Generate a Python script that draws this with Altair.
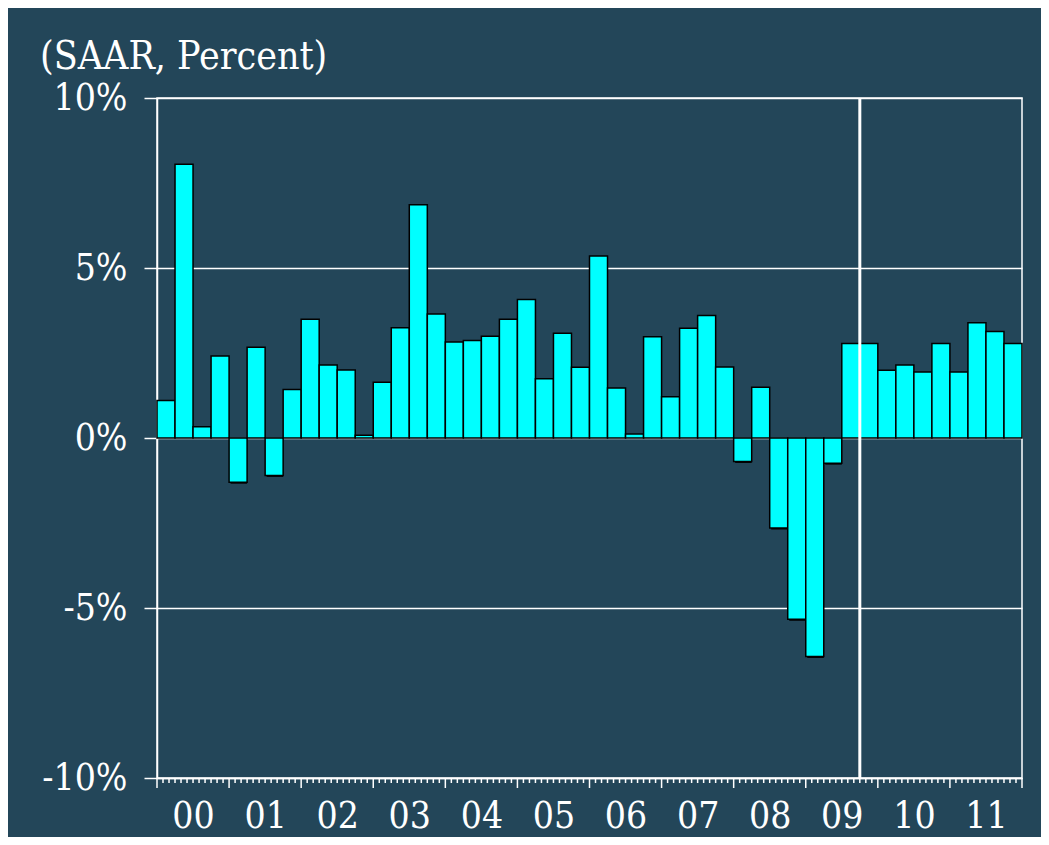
import altair as alt
import pandas as pd

# Quarterly real GDP growth (SAAR, %) 2000Q1 - 2011Q4
quarters = [f"{y}Q{q}" for y in range(2000, 2012) for q in range(1, 5)]
growth = [
    1.1, 8.05, 0.33, 2.41,      # 2000
    -1.3, 2.67, -1.1, 1.43,     # 2001
    3.49, 2.15, 2.0, 0.08,      # 2002
    1.64, 3.24, 6.86, 3.65,     # 2003
    2.82, 2.87, 2.99, 3.49,     # 2004
    4.07, 1.74, 3.08, 2.08,     # 2005
    5.35, 1.47, 0.12, 2.98,     # 2006
    1.21, 3.23, 3.6, 2.09,      # 2007
    -0.69, 1.49, -2.65, -5.33,  # 2008
    -6.43, -0.74, 2.78, 2.78,   # 2009
    1.99, 2.15, 1.94, 2.78,     # 2010
    1.94, 3.39, 3.13, 2.78,     # 2011
]
year_labels = ["00", "01", "02", "03", "04", "05", "06", "07", "08", "09", "10", "11"]
y_ticks = [-10, -5, 0, 5, 10]
forecast_start_quarter = "2009Q4"

BG = "#234659"
FONT = "DejaVu Serif Condensed"

start_month = [3 * i for i in range(len(quarters))]
df = pd.DataFrame({
    "quarter": quarters,
    "growth": growth,
    "start": start_month,
    "end": [m + 3 for m in start_month],
})
fc_df = pd.DataFrame({"month": [start_month[quarters.index(forecast_start_quarter)]]})

n_months = 12 * len(year_labels)
minor_df = pd.DataFrame({"month": [m for m in range(n_months + 1) if m % 12 != 0]})
major_df = pd.DataFrame({"month": [m for m in range(n_months + 1) if m % 12 == 0]})
label_values = [12 * i + 6 for i in range(len(year_labels))]
label_arr = "[" + ",".join(f"'{s}'" for s in year_labels) + "]"

x_scale = alt.Scale(domain=[0, n_months], nice=False, zero=False)
y_scale = alt.Scale(domain=[-10, 10], nice=False)

x_axis = alt.Axis(
    values=label_values,
    title=None,
    grid=False,
    domainColor="white",
    domainWidth=1.5,
    ticks=False,
    labelExpr=f"{label_arr}[floor(datum.value / 12)]",
    labelOverlap=False,
    labelFont=FONT,
    labelFontSize=37,
    labelColor="white",
    labelPadding=49,
    labelBaseline="alphabetic",
)
y_axis = alt.Axis(
    values=y_ticks,
    title=None,
    grid=True,
    gridColor="white",
    gridWidth=1.5,
    domainColor="white",
    domainWidth=1.5,
    tickColor="white",
    tickWidth=1.5,
    tickSize=13,
    labelExpr="datum.value + '%'",
    labelFont=FONT,
    labelFontSize=37,
    labelColor="white",
    labelPadding=17,
)

base = alt.Chart(df)

shadow = base.mark_bar(color="black", xOffset=1.5, yOffset=1.5).encode(
    x=alt.X("start:Q", scale=x_scale, axis=x_axis),
    x2="end:Q",
    y=alt.Y("growth:Q", scale=y_scale, axis=y_axis),
    y2=alt.datum(0),
)
bars = base.mark_bar(color="#00FFFF", stroke="black", strokeWidth=1.5).encode(
    x=alt.X("start:Q", scale=x_scale),
    x2="end:Q",
    y=alt.Y("growth:Q", scale=y_scale),
    y2=alt.datum(0),
)
fc_line = alt.Chart(fc_df).mark_rule(color="white", strokeWidth=3).encode(
    x=alt.X("month:Q", scale=x_scale)
)
minor_ticks = alt.Chart(minor_df).mark_rule(color="white", strokeWidth=1.5).encode(
    x=alt.X("month:Q", scale=x_scale),
    y=alt.value(680),
    y2=alt.value(685),
)
major_ticks = alt.Chart(major_df).mark_rule(color="white", strokeWidth=1.5).encode(
    x=alt.X("month:Q", scale=x_scale),
    y=alt.value(680),
    y2=alt.value(690),
)

chart = (
    alt.layer(shadow, bars, fc_line, minor_ticks, major_ticks)
    .properties(
        width=865,
        height=680,
        autosize=alt.AutoSizeParams(type="none"),
        padding={"left": 149, "top": 90, "right": 19, "bottom": 59},
        background=BG,
        title=alt.TitleParams(
            text="(SAAR, Percent)",
            anchor="start",
            frame="group",
            dx=-117,
            offset=2,
            font=FONT,
            fontSize=39,
            fontWeight="normal",
            color="white",
        ),
    )
    .configure_view(stroke="white", strokeWidth=1.5)
)

chart.save("out.html", embed_options={"renderer": "svg", "actions": False})
